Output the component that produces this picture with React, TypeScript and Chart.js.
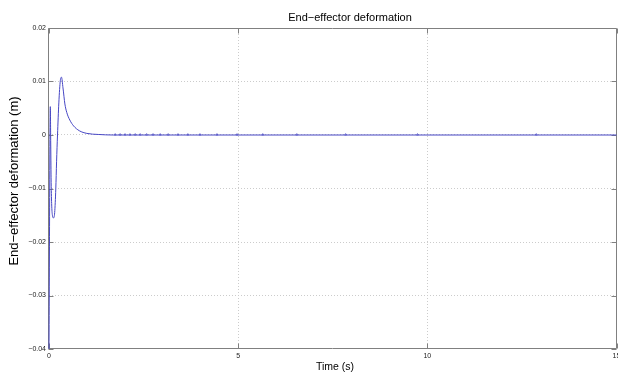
import React, { useEffect, useRef } from "react";
import { Chart, registerables } from "chart.js";

Chart.register(...registerables);

// Time (s)
const timeS = [
  0, 0.035, 0.045, 0.055, 0.07, 0.09, 0.12, 0.15, 0.18, 0.2, 0.225, 0.26, 0.3, 0.33,
  0.37, 0.42, 0.47, 0.55, 0.65, 0.8, 1.0, 1.3, 1.7, 15,
];
// End-effector deformation (m)
const deformation = [
  -0.04, 0.0053, -0.001, -0.008, -0.0128, -0.015, -0.0155, -0.0145, -0.01, -0.005, 0,
  0.006, 0.0102, 0.0108, 0.0088, 0.0058, 0.0042, 0.0028, 0.0017, 0.0008, 0.0003, 0.0001,
  0, 0,
];
// small blips along the settled line (solver steps)
const blipTimes = [
  1.75, 1.88, 2.01, 2.14, 2.28, 2.41, 2.58, 2.75, 2.94, 3.15, 3.41, 3.67, 3.99, 4.44,
  4.97, 5.65, 6.55, 7.84, 9.74, 12.88,
];
const blipValue = 0.00008;

const xTicks = [0, 5, 10, 15];
const yTicks = [-0.04, -0.03, -0.02, -0.01, 0, 0.01, 0.02];

const titleText = "End\u2212effector deformation";
const xTitle = "Time (s)";
const yTitle = "End\u2212effector deformation (m)";

const FONT = "'Liberation Sans', Arial, Helvetica, sans-serif";
const LINE = "#4646c4";

function fmt(v: number): string {
  if (Math.abs(v) < 1e-9) return "0";
  const s = v.toFixed(2);
  return s.replace("-", "\u2212");
}

export default function App() {
  const ref = useRef<HTMLCanvasElement | null>(null);

  useEffect(() => {
    const canvas = ref.current;
    if (!canvas) return;

    const decor = {
      id: "matlabDecor",
      beforeDatasetsDraw(chart: any) {
        const ctx = chart.ctx as CanvasRenderingContext2D;
        const a = chart.chartArea;
        const xs = chart.scales.x;
        const ys = chart.scales.y;
        ctx.save();
        ctx.strokeStyle = "#808080";
        ctx.lineWidth = 1;
        const L = Math.round(a.left) - 0.5;
        const R = Math.round(a.right) - 0.5;
        const T = Math.round(a.top) + 0.5;
        const B = Math.round(a.bottom) - 0.5;
        ctx.beginPath();
        ctx.rect(L, T, R - L, B - T);
        ctx.stroke();
        ctx.beginPath();
        yTicks.forEach((v) => {
          const y = Math.round(ys.getPixelForValue(v)) + 0.5;
          ctx.moveTo(L, y);
          ctx.lineTo(L + 5, y);
          ctx.moveTo(R, y);
          ctx.lineTo(R - 5, y);
        });
        xTicks.forEach((v) => {
          const x = Math.round(xs.getPixelForValue(v)) + 0.5;
          ctx.moveTo(x, B);
          ctx.lineTo(x, B - 5);
          ctx.moveTo(x, T);
          ctx.lineTo(x, T + 5);
        });
        ctx.stroke();
        ctx.restore();
      },
      afterDraw(chart: any) {
        const ctx = chart.ctx as CanvasRenderingContext2D;
        const a = chart.chartArea;
        const xs = chart.scales.x;
        const B = Math.round(a.bottom) - 0.5;
        ctx.save();
        ctx.fillStyle = "#222";
        ctx.font = `7px ${FONT}`;
        ctx.textAlign = "center";
        ctx.textBaseline = "top";
        xTicks.forEach((v) => {
          ctx.fillText(String(v), xs.getPixelForValue(v), B + 4);
        });
        ctx.fillStyle = "#000";
        ctx.font = `11px ${FONT}`;
        ctx.textBaseline = "alphabetic";
        ctx.fillText(titleText, 350, 21);
        ctx.font = `10.5px ${FONT}`;
        ctx.textBaseline = "middle";
        ctx.fillText(xTitle, 335, 367);
        ctx.save();
        ctx.translate(14, 181);
        ctx.rotate(-Math.PI / 2);
        ctx.font = `13px ${FONT}`;
        ctx.fillText(yTitle, 0, 0);
        ctx.restore();
        ctx.restore();
      },
    };

    const chart = new Chart(canvas, {
      type: "line",
      data: {
        datasets: [
          {
            type: "line",
            data: timeS.map((t, i) => ({ x: t, y: deformation[i] })),
            borderColor: LINE,
            borderWidth: 1,
            pointRadius: 0,
            cubicInterpolationMode: "monotone",
            fill: false,
            clip: 2,
          } as any,
          {
            type: "scatter",
            data: blipTimes.map((t) => ({ x: t, y: blipValue })),
            pointStyle: "triangle",
            pointRadius: 1.1,
            pointHoverRadius: 1.1,
            borderWidth: 0.6,
            borderColor: LINE,
            backgroundColor: "rgba(0,0,0,0)",
          } as any,
        ],
      },
      options: {
        responsive: false,
        animation: false,
        devicePixelRatio: 1,
        layout: { autoPadding: false, padding: { top: 28, right: 1.5, left: 0, bottom: 0 } },
        plugins: {
          legend: { display: false },
          title: { display: false },
          tooltip: { enabled: false },
        },
        scales: {
          x: {
            type: "linear",
            min: 0,
            max: 15,
            afterFit: (s: any) => {
              s.height = 25;
            },
            afterBuildTicks: (s: any) => {
              s.ticks = xTicks.map((v) => ({ value: v }));
            },
            ticks: { display: false },
            grid: {
              drawTicks: false,
              color: (c: any) =>
                c.tick && (c.tick.value === 0 || c.tick.value === 15)
                  ? "rgba(0,0,0,0)"
                  : "#cccccc",
              lineWidth: 1,
            },
            border: { display: false, dash: [1, 2] },
          },
          y: {
            type: "linear",
            min: -0.04,
            max: 0.02,
            afterFit: (s: any) => {
              s.width = 49;
            },
            afterBuildTicks: (s: any) => {
              s.ticks = yTicks.map((v) => ({ value: v }));
            },
            ticks: {
              padding: 3,
              color: "#222",
              font: { family: FONT, size: 7 },
              callback: (v: any) => fmt(Number(v)),
            },
            grid: {
              drawTicks: false,
              color: (c: any) =>
                c.tick && (Math.abs(c.tick.value + 0.04) < 1e-9 || Math.abs(c.tick.value - 0.02) < 1e-9)
                  ? "rgba(0,0,0,0)"
                  : "#cccccc",
              lineWidth: 1,
            },
            border: { display: false, dash: [1, 2] },
          },
        },
      } as any,
      plugins: [decor],
    });

    return () => chart.destroy();
  }, []);

  return (
    <div style={{ position: "absolute", left: 0, top: 0, width: 618, height: 374, background: "#fff" }}>
      <canvas ref={ref} width={618} height={374} style={{ display: "block" }} />
    </div>
  );
}
